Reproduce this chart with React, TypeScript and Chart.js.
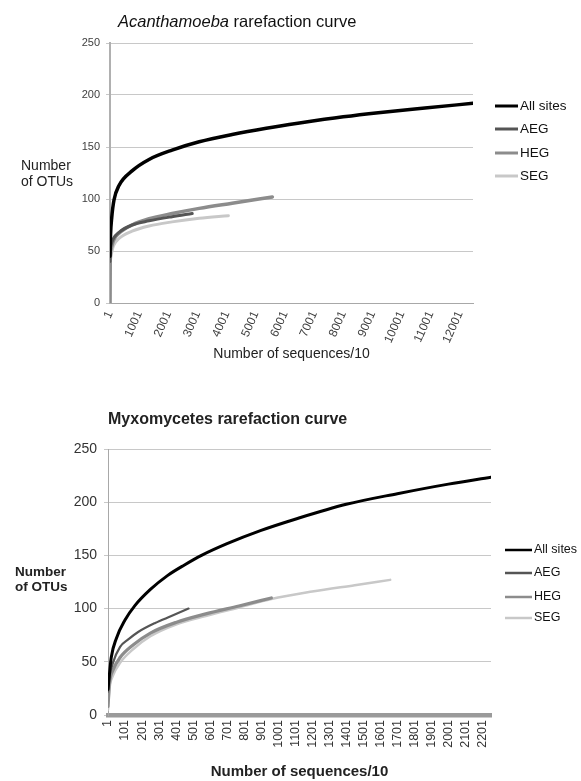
import React, { useEffect, useRef } from 'react';
import { Chart, registerables } from 'chart.js';

Chart.register(...registerables);

const FONT = "'Liberation Sans', Arial, sans-serif";

// ---------- Chart 1: Acanthamoeba ----------
const A_TITLE_ITALIC = 'Acanthamoeba';
const A_TITLE_REST = ' rarefaction curve';
const A_X_TITLE = 'Number of sequences/10';
const A_Y_TITLE = ['Number', 'of OTUs'];
const A_X_TICKS = [1, 1001, 2001, 3001, 4001, 5001, 6001, 7001, 8001, 9001, 10001, 11001, 12001];
const A_X_MAX = 12450;

const A_ALL_X = [1, 20, 60, 138, 310, 757, 1340, 2130, 3060, 4190, 5360, 6500, 8000, 9200, 10800, 12450];
const A_ALL_Y = [45, 66, 82, 99, 113, 127, 138, 147, 155, 162, 168, 173, 179, 183, 187.5, 192];
const A_AEG_X = [1, 10, 40, 120, 310, 757, 1340, 2130, 2820];
const A_AEG_Y = [40, 50, 56, 62, 68, 75, 79, 83, 86];
const A_HEG_X = [1, 10, 40, 120, 310, 757, 1340, 2130, 3060, 4190, 5570];
const A_HEG_Y = [0, 42, 52, 60, 67, 75, 81, 86, 91, 96, 102];
const A_SEG_X = [1, 10, 40, 120, 310, 757, 1340, 2130, 3060, 4060];
const A_SEG_Y = [0, 35, 46, 55, 62, 69, 74, 78, 81.5, 84];

// ---------- Chart 2: Myxomycetes ----------
const M_TITLE = 'Myxomycetes rarefaction curve';
const M_X_TITLE = 'Number of sequences/10';
const M_Y_TITLE = ['Number', 'of OTUs'];
const M_X_TICKS = [1, 101, 201, 301, 401, 501, 601, 701, 801, 901, 1001, 1101, 1201, 1301, 1401, 1501, 1601, 1701, 1801, 1901, 2001, 2101, 2201];
const M_X_MAX = 2250;

const M_ALL_X = [1, 20, 50, 100, 160, 250, 350, 450, 550, 700, 900, 1100, 1400, 1700, 2000, 2250];
const M_ALL_Y = [24, 54, 72, 89, 103, 118, 131, 141, 150, 161, 173.5, 184, 198, 208, 217, 223.5];
const M_AEG_X = [1, 10, 30, 72, 120, 178, 278, 373, 474];
const M_AEG_Y = [22, 36, 49, 64, 71, 78, 86.5, 93, 100];
const M_HEG_X = [1, 10, 30, 72, 150, 250, 400, 575, 770, 960];
const M_HEG_Y = [8, 30, 42, 54, 66, 77, 87, 95, 102.5, 110];
const M_SEG_X = [1, 10, 30, 72, 150, 250, 400, 575, 770, 960, 1200, 1450, 1658];
const M_SEG_Y = [5, 25, 37, 49, 62, 74, 85, 93, 101, 109, 116, 122, 127];

const SERIES_LABELS = ['All sites', 'AEG', 'HEG', 'SEG'];
const SERIES_COLORS = ['#000000', '#555555', '#8c8c8c', '#c8c8c8'];
const Y_MAX = 250;
const Y_STEP = 50;

const pts = (xs: number[], ys: number[]) => xs.map((x, i) => ({ x, y: ys[i] }));

type Overlay = {
  title: { text: string; font: string }[];
  titleX: number;
  titleY: number;
  titleColor: string;
  yTitle: string[];
  yTitleFont: string;
  yTitleX: number;
  yTitleY: number;
  yTitleGap: number;
  legendX: number;
  legendLineLen: number;
  legendLineWidth: number;
  legendYs: number[];
  legendFont: string;
};

const overlayPlugin = (o: Overlay) => ({
  id: 'overlay',
  afterDraw(chart: any) {
    const ctx = chart.ctx;
    ctx.save();
    ctx.textBaseline = 'middle';
    ctx.textAlign = 'left';
    ctx.fillStyle = o.titleColor;
    let x = o.titleX;
    for (const seg of o.title) {
      ctx.font = seg.font;
      ctx.fillText(seg.text, x, o.titleY);
      x += ctx.measureText(seg.text).width;
    }
    ctx.font = o.yTitleFont;
    ctx.fillStyle = '#222';
    o.yTitle.forEach((t, i) => ctx.fillText(t, o.yTitleX, o.yTitleY + i * o.yTitleGap));
    ctx.font = o.legendFont;
    chart.data.datasets.forEach((ds: any, i: number) => {
      const y = o.legendYs[i];
      ctx.strokeStyle = ds.borderColor;
      ctx.lineWidth = o.legendLineWidth;
      ctx.beginPath();
      ctx.moveTo(o.legendX, y);
      ctx.lineTo(o.legendX + o.legendLineLen, y);
      ctx.stroke();
      ctx.fillStyle = '#111';
      ctx.fillText(ds.label, o.legendX + o.legendLineLen + 2, y);
    });
    ctx.restore();
  },
});

function makeDatasets(series: { x: number[]; y: number[] }[], widths: number[]) {
  return series.map((s, i) => ({
    label: SERIES_LABELS[i],
    data: pts(s.x, s.y),
    borderColor: SERIES_COLORS[i],
    backgroundColor: SERIES_COLORS[i],
    borderWidth: widths[i],
    pointRadius: 0,
    fill: false,
    cubicInterpolationMode: 'monotone' as const,
    borderCapStyle: 'round' as const,
  }));
}

export default function App() {
  const c1 = useRef<HTMLCanvasElement>(null);
  const c2 = useRef<HTMLCanvasElement>(null);

  useEffect(() => {
    const ch1 = new Chart(c1.current!, {
      type: 'line',
      data: {
        datasets: makeDatasets(
          [
            { x: A_ALL_X, y: A_ALL_Y },
            { x: A_AEG_X, y: A_AEG_Y },
            { x: A_HEG_X, y: A_HEG_Y },
            { x: A_SEG_X, y: A_SEG_Y },
          ],
          [3.5, 3, 3.5, 3]
        ),
      },
      options: {
        responsive: false,
        animation: false,
        layout: { padding: { top: 43, right: 108, bottom: 27, left: 0 } },
        plugins: { legend: { display: false }, tooltip: { enabled: false }, title: { display: false } },
        scales: {
          x: {
            type: 'linear',
            min: 1,
            max: A_X_MAX,
            afterBuildTicks: (s: any) => {
              s.ticks = A_X_TICKS.map((v) => ({ value: v }));
            },
            afterFit: (s: any) => {
              s.height = 60;
            },
            grid: { display: false, drawTicks: false },
            border: { display: true, color: '#a8a8a8', width: 1 },
            ticks: {
              autoSkip: false,
              minRotation: 66,
              maxRotation: 66,
              padding: 6,
              color: '#404040',
              font: { family: FONT, size: 12 },
              callback: (v: any) => String(v),
            },
            title: {
              display: true,
              text: A_X_TITLE,
              color: '#222',
              font: { family: FONT, size: 14 },
              padding: { top: 0, bottom: 0 },
            },
          },
          y: {
            min: 0,
            max: Y_MAX,
            afterFit: (s: any) => {
              s.width = 110;
            },
            grid: { color: '#c8c8c8', tickLength: 4, drawTicks: true },
            border: { display: true, color: '#b0b0b0', width: 2 },
            ticks: { stepSize: Y_STEP, padding: 6, color: '#404040', font: { family: FONT, size: 11 } },
          },
        },
      },
      plugins: [
        overlayPlugin({
          title: [
            { text: A_TITLE_ITALIC, font: `italic 16.5px ${FONT}` },
            { text: A_TITLE_REST, font: `16.5px ${FONT}` },
          ],
          titleX: 118,
          titleY: 22,
          titleColor: '#111',
          yTitle: A_Y_TITLE,
          yTitleFont: `14px ${FONT}`,
          yTitleX: 21,
          yTitleY: 166,
          yTitleGap: 16,
          legendX: 495,
          legendLineLen: 23,
          legendLineWidth: 3,
          legendYs: [106, 129, 153, 176],
          legendFont: `13.5px ${FONT}`,
        }),
      ],
    } as any);

    const ch2 = new Chart(c2.current!, {
      type: 'line',
      data: {
        datasets: makeDatasets(
          [
            { x: M_ALL_X, y: M_ALL_Y },
            { x: M_AEG_X, y: M_AEG_Y },
            { x: M_HEG_X, y: M_HEG_Y },
            { x: M_SEG_X, y: M_SEG_Y },
          ],
          [3, 2.2, 3.2, 2.5]
        ),
      },
      options: {
        responsive: false,
        animation: false,
        layout: { padding: { top: 59, right: 90, bottom: 0, left: 0 } },
        plugins: { legend: { display: false }, tooltip: { enabled: false }, title: { display: false } },
        scales: {
          x: {
            type: 'linear',
            min: 1,
            max: M_X_MAX,
            afterBuildTicks: (s: any) => {
              s.ticks = M_X_TICKS.map((v) => ({ value: v }));
            },
            afterFit: (s: any) => {
              s.height = 66;
            },
            grid: { display: false, drawTicks: false },
            border: { display: true, color: '#9a9a9a', width: 4.5 },
            ticks: {
              autoSkip: false,
              minRotation: 90,
              maxRotation: 90,
              padding: 5,
              color: '#333',
              font: { family: FONT, size: 12.5 },
              callback: (v: any) => String(v),
            },
            title: {
              display: true,
              text: M_X_TITLE,
              color: '#222',
              font: { family: FONT, size: 15, weight: 'bold' },
              padding: { top: 0, bottom: 0 },
            },
          },
          y: {
            min: 0,
            max: Y_MAX,
            afterFit: (s: any) => {
              s.width = 108;
            },
            grid: { color: '#c8c8c8', tickLength: 4, drawTicks: true },
            border: { display: true, color: '#a8a8a8', width: 1 },
            ticks: { stepSize: Y_STEP, padding: 7, color: '#333', font: { family: FONT, size: 14 } },
          },
        },
      },
      plugins: [
        overlayPlugin({
          title: [{ text: M_TITLE, font: `bold 16px ${FONT}` }],
          titleX: 108,
          titleY: 30,
          titleColor: '#222',
          yTitle: M_Y_TITLE,
          yTitleFont: `bold 13.5px ${FONT}`,
          yTitleX: 15,
          yTitleY: 182,
          yTitleGap: 15,
          legendX: 505,
          legendLineLen: 27,
          legendLineWidth: 2.5,
          legendYs: [160, 183, 207, 228],
          legendFont: `12.5px ${FONT}`,
        }),
      ],
    } as any);

    return () => {
      ch1.destroy();
      ch2.destroy();
    };
  }, []);

  return (
    <div style={{ position: 'absolute', left: 0, top: 0, width: 581, height: 781, background: '#fff' }}>
      <canvas ref={c1} width={581} height={390} style={{ position: 'absolute', left: 0, top: 0, display: 'block' }} />
      <canvas ref={c2} width={581} height={391} style={{ position: 'absolute', left: 0, top: 390, display: 'block' }} />
    </div>
  );
}
